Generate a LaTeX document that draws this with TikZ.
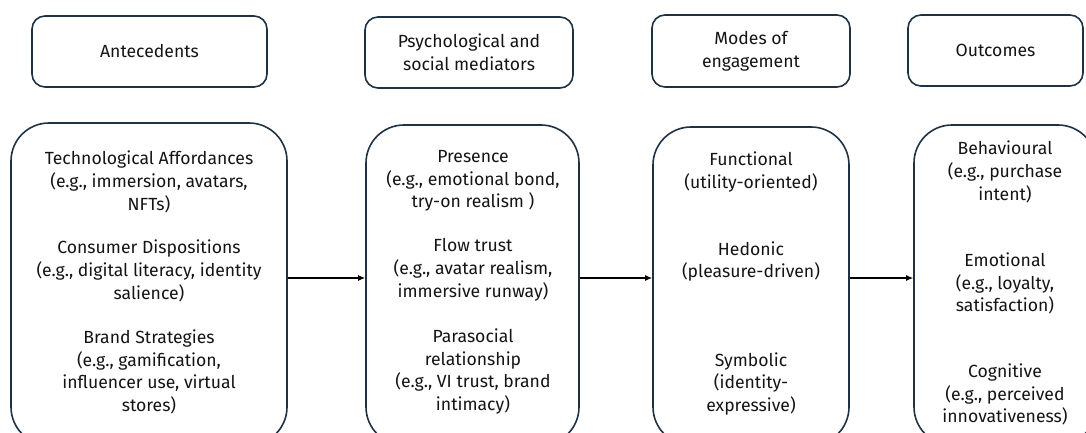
\documentclass[tikz,border=0pt]{standalone}
\usepackage{fontspec}
\setmainfont{Fira Sans}
\usetikzlibrary{arrows.meta}
\definecolor{boxc}{RGB}{30,50,68}
\definecolor{txtc}{RGB}{20,20,20}
\begin{document}
\begin{tikzpicture}[x=1pt,y=-1pt,
  hdr/.style={draw=boxc, line width=1.6pt, rounded corners=13pt, inner sep=0pt},
  big/.style={draw=boxc, line width=1.6pt, rounded corners=38pt, inner sep=0pt},
  txt/.style={align=center, text=txtc, font=\fontsize{17.6}{22.8}\selectfont, inner sep=0pt},
  arr/.style={-{Latex[length=7pt,width=6pt]}, line width=1.2pt, draw=black}]
\useasboundingbox (0,0) rectangle (1086,433);
\clip (0,0) rectangle (1086,433);
% header boxes
\node[hdr, minimum width=235pt, minimum height=71pt] (h1) at (149.5,51.5) {};
\node[hdr, minimum width=208pt, minimum height=71pt] (h2) at (469,52.5) {};
\node[hdr, minimum width=198pt, minimum height=72pt] (h3) at (751,51) {};
\node[hdr, minimum width=175pt, minimum height=71pt] (h4) at (995.5,50.5) {};
\node[txt] (h1t) at (h1.center) {Antecedents};
\node[txt] (h2t) at (h2.center) {Psychological and\\social mediators};
\node[txt] (h3t) at (h3.center) {Modes of\\engagement};
\node[txt] (h4t) at (h4.center) {Outcomes};
% big boxes
\node[big, minimum width=276pt, minimum height=322pt] (b1) at (149,284) {};
\node[big, minimum width=213pt, minimum height=320pt] (b2) at (472.5,285) {};
\node[big, minimum width=196pt, minimum height=318pt] (b3) at (751,286) {};
\node[big, minimum width=182pt, minimum height=320pt] (b4) at (1005,285) {};
% texts box 1
\node[txt] (a1) at (149,182) {Technological Affordances\\(e.g., immersion, avatars,\\NFTs)};
\node[txt] (a2) at (149,271) {Consumer Dispositions\\(e.g., digital literacy, identity\\salience)};
\node[txt] (a3) at (149,372) {Brand Strategies\\(e.g., gamification,\\influencer use, virtual\\stores)};
% texts box 2
\node[txt] (m1) at (473,181) {Presence\\(e.g., emotional bond,\\try-on realism )};
\node[txt] (m2) at (473,270) {Flow trust\\(e.g., avatar realism,\\immersive runway)};
\node[txt] (m3) at (473,371.5) {Parasocial\\relationship\\(e.g., VI trust, brand\\intimacy)};
% texts box 3
\node[txt] (e1) at (751,172) {Functional\\(utility-oriented)};
\node[txt] (e2) at (751,261.5) {Hedonic\\(pleasure-driven)};
\node[txt] (e3) at (751,384) {Symbolic\\(identity-\\expressive)};
% texts box 4
\node[txt] (o1) at (1005,172) {Behavioural\\(e.g., purchase\\intent)};
\node[txt] (o2) at (1005,283.5) {Emotional\\(e.g., loyalty,\\satisfaction)};
\node[txt] (o3) at (1005,394.5) {Cognitive\\(e.g., perceived\\innovativeness)};
% arrows
\coordinate (ay) at (0,278);
\draw[arr] (b1.east |- ay) -- (b2.west |- ay);
\draw[arr] (b2.east |- ay) -- (b3.west |- ay);
\draw[arr] (b3.east |- ay) -- (b4.west |- ay);
\end{tikzpicture}
\end{document}
